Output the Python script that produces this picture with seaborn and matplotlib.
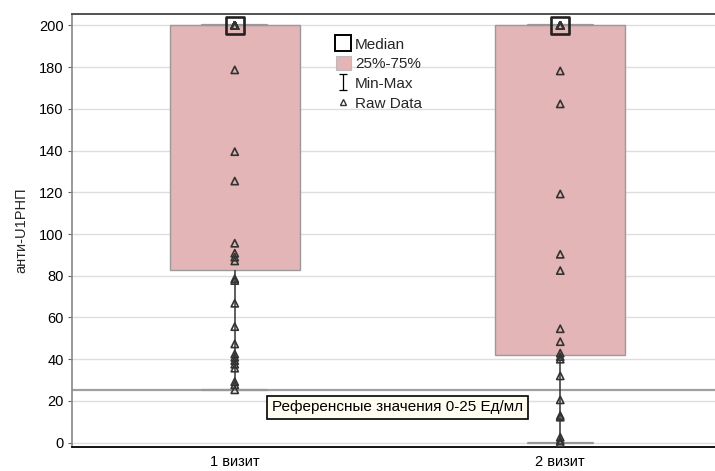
import numpy as np
import pandas as pd
import matplotlib
matplotlib.use("Agg")
import matplotlib.pyplot as plt
from matplotlib.path import Path
from matplotlib.lines import Line2D
from matplotlib.patches import Patch
import seaborn as sns

# anti-U1RNP measurements per visit (U/ml); many samples sit at the 200 upper limit
visits = ["1 визит", "2 визит"]
visit1 = [25.3, 27.7, 29.2, 35.7, 37.6, 39.3, 40.9, 42.5, 47.3, 55.6, 66.8,
          77.7, 78.6, 87.1, 88.9, 90.8, 95.6, 125.4, 139.5, 178.7] + [200.0] * 31
visit2 = [0.0, 1.0, 2.6, 12.2, 13.0, 20.5, 32.0, 40.0, 41.2, 42.9, 48.4,
          54.6, 82.5, 90.3, 119.2, 162.4, 178.2] + [200.0] * 18
y_ticks = list(range(0, 201, 20))
ref_limit = 25
ref_text = "Референсные значения 0-25 Ед/мл"
y_label = "анти-U1РНП"

df = pd.DataFrame({
    "visit": [visits[0]] * len(visit1) + [visits[1]] * len(visit2),
    "value": visit1 + visit2,
})

sns.set_theme(style="white")
plt.rcParams["font.family"] = ["Liberation Sans", "DejaVu Sans"]

fig = plt.figure(figsize=(7.15, 4.71), dpi=100)
ax = fig.add_axes([72 / 715, 24 / 471, 651 / 715, 433 / 471])

box_face = "#E3B5B6"
box_edge = "#9A9A9A"
dark = "#333333"

for t in y_ticks:
    ax.axhline(t, color="#DEDEDE", lw=1.0, zorder=0)

sns.boxplot(data=df, x="visit", y="value", order=visits, ax=ax,
            whis=(0, 100), width=0.4, color=box_face, saturation=1,
            fliersize=0, linewidth=1.0, linecolor=box_edge,
            boxprops={"edgecolor": box_edge, "facecolor": box_face, "zorder": 2},
            whiskerprops={"color": "#333333", "linewidth": 1.1, "zorder": 2},
            capprops={"color": "#999999", "linewidth": 1.6, "zorder": 2},
            medianprops={"linewidth": 0},
            capwidths=0.2)

ax.axhline(ref_limit, color="#A0A0A0", lw=1.6, zorder=1.5)

sns.stripplot(data=df, x="visit", y="value", order=visits, ax=ax,
              jitter=False, marker="^", size=5.2, color=dark,
              linewidth=1.2, edgecolor=dark, zorder=3)
for coll in ax.collections:
    coll.set_facecolor("none")
    coll.set_edgecolor(dark)

medians = df.groupby("visit", sort=False)["value"].median().reindex(visits)
ax.scatter(range(len(visits)), medians.values, marker="s", s=160,
           facecolors="none", edgecolors="#222222", linewidths=1.9, zorder=4)

ax.text(0.5, 17, ref_text, ha="center", va="center", fontsize=11,
        color="black", zorder=5,
        bbox=dict(boxstyle="square,pad=0.3", facecolor="#FFFDF0",
                  edgecolor="black", linewidth=1.2))

ax.set_xlim(-0.5, 1.5)
ax.set_ylim(-2.1, 205.5)
ax.set_yticks(y_ticks)
ax.set_xlabel("")
ax.set_ylabel(y_label, fontsize=10.5, labelpad=8)
ax.tick_params(axis="y", labelsize=10.5, length=3, width=0.8, color="#666666",
               left=True, pad=3, labelcolor="black")
ax.tick_params(axis="x", labelsize=10.5, length=0, pad=6, labelcolor="black")

for side in ["top", "bottom", "left", "right"]:
    ax.spines[side].set_visible(True)
ax.spines["top"].set_color("#444444")
ax.spines["top"].set_linewidth(1.3)
ax.spines["bottom"].set_color("black")
ax.spines["bottom"].set_linewidth(1.3)
ax.spines["left"].set_color("#888888")
ax.spines["left"].set_linewidth(1.2)
ax.spines["right"].set_visible(False)

# I-beam glyph for the Min-Max legend entry
ibeam = Path([(-0.5, 1), (0.5, 1), (0, 1), (0, -1), (-0.5, -1), (0.5, -1)],
             [Path.MOVETO, Path.LINETO, Path.MOVETO, Path.LINETO,
              Path.MOVETO, Path.LINETO])
handles = [
    Line2D([], [], linestyle="none", marker="s", markersize=12,
           markerfacecolor="none", markeredgecolor="black", markeredgewidth=1.4),
    Patch(facecolor=box_face, edgecolor="#BBBBBB", linewidth=0.8),
    Line2D([], [], linestyle="none", marker=ibeam, markersize=12,
           markeredgecolor="black", markeredgewidth=0.9),
    Line2D([], [], linestyle="none", marker="^", markersize=4.5,
           markerfacecolor="none", markeredgecolor=dark, markeredgewidth=1.0),
]
labels = ["Median", "25%-75%", "Min-Max", "Raw Data"]
ax.legend(handles, labels, loc="upper left", bbox_to_anchor=(0.405, 0.948),
          frameon=False, fontsize=11, handlelength=1.0, handleheight=1.0,
          handletextpad=0.25, labelspacing=0.3, borderpad=0, borderaxespad=0)

fig.savefig("out.png", dpi=100)
